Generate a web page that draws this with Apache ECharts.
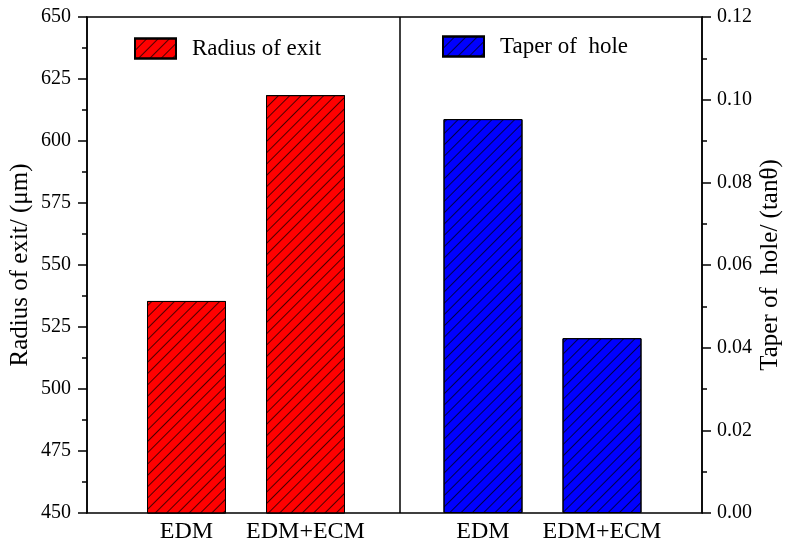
<!DOCTYPE html>
<html><head><meta charset="utf-8">
<script src="https://cdn.jsdelivr.net/npm/echarts@6/dist/echarts.min.js"></script>
<style>html,body{margin:0;padding:0;background:#fff}#c{width:793px;height:550px}</style>
</head><body><div id="c"></div>
<script>
const categories = ['EDM', 'EDM+ECM'];
const radiusExit = [535.5, 618.5];
const taperHole = [0.0953, 0.0423];
const seriesNames = ['Radius of exit', 'Taper of  hole'];
const leftAxisName = 'Radius of exit/ (μm)';
const rightAxisName = 'Taper of  hole/ (tanθ)';

const FONT = 'Liberation Serif';
const hatch = {
  symbol: 'rect', symbolSize: 1,
  dashArrayX: [1, 0], dashArrayY: [1, 7],
  rotation: -Math.PI / 4,
  color: 'rgba(0,0,0,0.7)'
};
const chart = echarts.init(document.getElementById('c'), null, {renderer: 'canvas'});
const hiddenY = (min, max, g) => ({type: 'value', gridIndex: g, min, max, show: false});
const catX = (g) => ({
  type: 'category', gridIndex: g, data: categories,
  axisLine: {show: false}, axisTick: {show: false},
  axisLabel: {color: '#000', fontFamily: FONT, fontSize: 24, margin: 7, interval: 0, hideOverlap: false}
});
const legendText = {fontFamily: FONT, fontSize: 23, color: '#000', padding: [0, 0, 0, 11]};
chart.setOption({
  animation: false,
  textStyle: {fontFamily: FONT},
  grid: [
    {left: 87, top: 17, width: 615, height: 496, show: true, borderColor: '#000', borderWidth: 1.5,
      backgroundColor: 'transparent', outerBoundsMode: 'none', containLabel: false},
    {left: 127, top: 17, width: 238, height: 496, outerBoundsMode: 'none', containLabel: false},
    {left: 423.5, top: 17, width: 238, height: 496, outerBoundsMode: 'none', containLabel: false}
  ],
  legend: [
    {data: [seriesNames[0]], left: 134, top: 37, padding: 0, icon: 'rect', itemWidth: 41, itemHeight: 20,
      textStyle: legendText},
    {data: [seriesNames[1]], left: 442, top: 35, padding: 0, icon: 'rect', itemWidth: 41, itemHeight: 20,
      textStyle: legendText}
  ],
  xAxis: [
    {type: 'category', gridIndex: 0, data: [], show: false},
    catX(1), catX(2)
  ],
  yAxis: [
    {type: 'value', gridIndex: 0, position: 'left', min: 450, max: 650, interval: 25,
      name: leftAxisName, nameLocation: 'middle', nameGap: 54, nameRotate: 90, nameMoveOverlap: false,
      nameTextStyle: {fontFamily: FONT, fontSize: 25, color: '#000'},
      axisLine: {show: true, lineStyle: {color: '#000', width: 1.5}},
      axisTick: {show: true, length: 9, lineStyle: {color: '#000', width: 1.5}},
      minorTick: {show: true, splitNumber: 2, length: 5, lineStyle: {color: '#000', width: 1.5}},
      splitLine: {show: false},
      axisLabel: {color: '#000', fontFamily: FONT, fontSize: 20, margin: 16}},
    {type: 'value', gridIndex: 0, position: 'right', min: 0, max: 0.12, interval: 0.02,
      name: rightAxisName, nameLocation: 'middle', nameGap: 56, nameRotate: 90, nameMoveOverlap: false,
      nameTextStyle: {fontFamily: FONT, fontSize: 25, color: '#000'},
      axisLine: {show: true, lineStyle: {color: '#000', width: 1.5}},
      axisTick: {show: true, length: 9, lineStyle: {color: '#000', width: 1.5}},
      minorTick: {show: true, splitNumber: 2, length: 5, lineStyle: {color: '#000', width: 1.5}},
      splitLine: {show: false},
      axisLabel: {color: '#000', fontFamily: FONT, fontSize: 20, margin: 15,
        formatter: v => v.toFixed(2)}},
    hiddenY(450, 650, 1),
    hiddenY(0, 0.12, 2)
  ],
  series: [
    {name: seriesNames[0], type: 'bar', xAxisIndex: 1, yAxisIndex: 2, data: radiusExit, barWidth: 79,
      itemStyle: {color: '#ff0000', borderColor: '#000', borderWidth: 1, decal: hatch}},
    {name: seriesNames[1], type: 'bar', xAxisIndex: 2, yAxisIndex: 3, data: taperHole, barWidth: 79,
      itemStyle: {color: '#0000ff', borderColor: '#000', borderWidth: 1, decal: hatch}}
  ],
  graphic: [
    {type: 'line', shape: {x1: 400, y1: 17, x2: 400, y2: 513}, style: {stroke: '#000', lineWidth: 1.5}}
  ]
});
</script></body></html>
